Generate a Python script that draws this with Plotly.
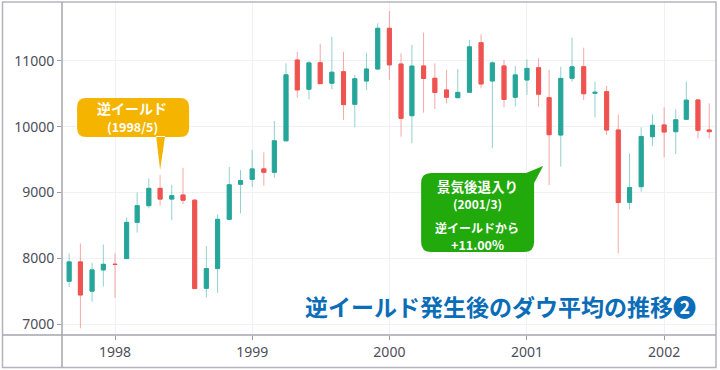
import plotly.graph_objects as go

# ---- data (monthly Dow OHLC) ----
months = ["1997-09-01", "1997-10-01", "1997-11-01", "1997-12-01",
          "1998-01-01", "1998-02-01", "1998-03-01", "1998-04-01", "1998-05-01", "1998-06-01",
          "1998-07-01", "1998-08-01", "1998-09-01", "1998-10-01", "1998-11-01", "1998-12-01",
          "1999-01-01", "1999-02-01", "1999-03-01", "1999-04-01", "1999-05-01", "1999-06-01",
          "1999-07-01", "1999-08-01", "1999-09-01", "1999-10-01", "1999-11-01", "1999-12-01",
          "2000-01-01", "2000-02-01", "2000-03-01", "2000-04-01", "2000-05-01", "2000-06-01",
          "2000-07-01", "2000-08-01", "2000-09-01", "2000-10-01", "2000-11-01", "2000-12-01",
          "2001-01-01", "2001-02-01", "2001-03-01", "2001-04-01", "2001-05-01", "2001-06-01",
          "2001-07-01", "2001-08-01", "2001-09-01", "2001-10-01", "2001-11-01", "2001-12-01",
          "2002-01-01", "2002-02-01", "2002-03-01", "2002-04-01", "2002-05-01"]
open_ = [7650, 7945, 7500, 7823,
         7908, 7995, 8546, 8800, 9063, 8900,
         8962, 8883, 7543, 7843, 8592, 9125,
         9200, 9359, 9307, 9786, 11015, 10570,
         10974, 10661, 10837, 10341, 10696, 10878,
         11497, 10954, 10168, 10924, 10737, 10559,
         10442, 10524, 11278, 10696, 10924, 10448,
         10711, 10898, 10442, 9874, 10737, 10913,
         10509, 10534, 9951, 8851, 9089, 9849,
         10027, 9925, 10113, 10407, 9951]
high = [8070, 8225, 7930, 8210,
        8075, 8620, 9000, 9215, 9265, 9115,
        9375, 8900, 8185, 8668, 9390, 9342,
        9646, 9610, 10087, 10965, 11140, 11000,
        11260, 11370, 11140, 10787, 11126, 11573,
        11760, 11117, 11243, 11430, 10965, 10863,
        10878, 11319, 11406, 11000, 11015, 10924,
        11025, 11041, 10863, 10913, 11354, 11202,
        10686, 10620, 10189, 9596, 9992, 10189,
        10296, 10265, 10686, 10420, 10357]
low = [7560, 6935, 7340, 7570,
       7400, 7990, 8390, 8760, 8800, 8580,
       8825, 7539, 7405, 7475, 8592, 8683,
       9080, 9104, 9225, 9786, 10442, 10417,
       10661, 10570, 10103, 9992, 10559, 10878,
       10711, 9849, 9748, 10214, 10270, 10357,
       10442, 10524, 10585, 9672, 10296, 10305,
       10483, 10305, 9114, 9392, 10686, 10407,
       10138, 9874, 8075, 8744, 9012, 9707,
       9535, 9586, 10113, 9824, 9824]
close = [7945, 7442, 7823, 7908,
         7906, 8546, 8800, 9063, 8900, 8952,
         8883, 7539, 7843, 8592, 9117, 9181,
         9359, 9307, 9786, 10789, 10560, 10971,
         10655, 10829, 10337, 10730, 10878, 11497,
         10941, 10128, 10922, 10734, 10522, 10448,
         10522, 11215, 10651, 10971, 10415, 10788,
         10887, 10495, 9879, 10735, 10912, 10502,
         10523, 9950, 8848, 9075, 9852, 10022,
         9920, 10106, 10404, 9946, 9925]

y_ticks = [7000, 8000, 9000, 10000, 11000]
y_tick_labels = ["7000", "8000", "9000", "10000", "11000"]
x_ticks = ["1998-01-01", "1999-01-01", "2000-01-01", "2001-01-01", "2002-01-01"]
x_tick_labels = ["1998", "1999", "2000", "2001", "2002"]

inversion_month = "1998-05-01"
inversion_lines = ["逆イールド", "(1998/5)"]
recession_month = "2001-03-01"
recession_lines = ["景気後退入り", "(2001/3)", "逆イールドから", "+11.00%"]
title_text = "逆イールド発生後のダウ平均の推移❷"

UP, DOWN = "#26A69A", "#EF5350"
UP_W, DOWN_W = "rgba(38,166,154,0.5)", "rgba(239,83,80,0.5)"

body_hi = [max(o, c) for o, c in zip(open_, close)]
body_lo = [min(o, c) for o, c in zip(open_, close)]

fig = go.Figure()
# wicks
fig.add_trace(go.Candlestick(
    x=months, open=open_, high=high, low=low, close=close,
    increasing=dict(line=dict(color=UP_W, width=1), fillcolor="rgba(0,0,0,0)"),
    decreasing=dict(line=dict(color=DOWN_W, width=1), fillcolor="rgba(0,0,0,0)"),
    showlegend=False, hoverinfo="skip"))
# bodies
fig.add_trace(go.Candlestick(
    x=months, open=open_, high=body_hi, low=body_lo, close=close,
    increasing=dict(line=dict(color=UP, width=1), fillcolor=UP),
    decreasing=dict(line=dict(color=DOWN, width=1), fillcolor=DOWN),
    showlegend=False))

FONT = "Noto Sans, Noto Sans CJK JP, sans-serif"
JFONT = "Noto Sans CJK JP, sans-serif"
TICK_COLOR = "#4E4E58"

fig.update_layout(
    width=720, height=370,
    margin=dict(l=62, r=4, t=2, b=35),
    paper_bgcolor="white", plot_bgcolor="white",
    boxgap=0.45,
    showlegend=False,
    font=dict(family=FONT, size=14, color=TICK_COLOR),
    xaxis=dict(
        type="date", range=["1997-08-13", "2002-05-19"],
        rangeslider=dict(visible=False),
        tickvals=x_ticks, ticktext=x_tick_labels,
        ticks="outside", ticklen=4, tickcolor="#9a9aa4",
        showgrid=True, gridcolor="#F1F1F5", gridwidth=1,
        showline=False, zeroline=False,
        tickfont=dict(size=14, color=TICK_COLOR),
    ),
    yaxis=dict(
        range=[6833, 11897],
        tickvals=y_ticks, ticktext=y_tick_labels,
        ticks="outside", ticklen=4, tickcolor="#9a9aa4",
        showgrid=True, gridcolor="#F1F1F5", gridwidth=1,
        showline=False, zeroline=False,
        tickfont=dict(size=14, color=TICK_COLOR),
    ),
)

# frame lines (paper coords: plot spans px 62..716, 2..335)
PW, PH = 654.0, 333.0
def px(x):
    return (x - 62) / PW
def py(y):
    return (335 - y) / PH

frame = "#B4B4BE"
fig.add_shape(type="rect", xref="paper", yref="paper",
              x0=px(2.5), x1=px(716), y0=py(367.5), y1=py(2),
              line=dict(color=frame, width=1.5), fillcolor="rgba(0,0,0,0)", layer="above")
fig.add_shape(type="line", xref="paper", yref="paper",
              x0=px(2.5), x1=px(716), y0=0, y1=0,
              line=dict(color="#A4A4AE", width=1.5), layer="above")
fig.add_shape(type="line", xref="paper", yref="paper",
              x0=0, x1=0, y0=py(367.5), y1=py(2),
              line=dict(color="#A4A4AE", width=1.5), layer="above")

# ---- speech bubbles (pixel-sized shapes anchored on the candles) ----
def rounded_path(l, r, b, t, rad, pointer_pts=None, pointer_edge=None):
    p = f"M{l+rad},{b} L{r-rad},{b} Q{r},{b} {r},{b+rad} "
    if pointer_edge == "topright":
        p += f"L{r},{pointer_pts[2][1]} "
        p += f"L{pointer_pts[1][0]},{pointer_pts[1][1]} L{pointer_pts[0][0]},{pointer_pts[0][1]} "
        p += f"L{l+rad},{t} Q{l},{t} {l},{t-rad} "
    else:
        p += f"L{r},{t-rad} Q{r},{t} {r-rad},{t} L{l+rad},{t} Q{l},{t} {l},{t-rad} "
    p += f"L{l},{b+rad} Q{l},{b} {l+rad},{b} Z"
    if pointer_edge == "bottom":
        (ax, ay), (tx, ty), (bx, by) = pointer_pts
        p += f" M{ax},{ay} L{tx},{ty} L{bx},{by} Z"
    return p

i_inv = months.index(inversion_month)
i_rec = months.index(recession_month)

yellow = "#F5B400"
green = "#22A90C"

fig.add_shape(type="path", xref="x", yref="y", xsizemode="pixel", ysizemode="pixel",
              xanchor=inversion_month, yanchor=high[i_inv],
              path=rounded_path(-83, 29, 38, 77, 9,
                                pointer_pts=[(-4, 39), (0, 5), (5, 39)], pointer_edge="bottom"),
              fillcolor=yellow, line=dict(width=0), layer="above")

fig.add_shape(type="path", xref="x", yref="y", xsizemode="pixel", ysizemode="pixel",
              xanchor=recession_month, yanchor=low[i_rec],
              path=rounded_path(-128, -15, -67, 12, 10,
                                pointer_pts=[(-23, 12), (-6, 19), (-15, 2)], pointer_edge="topright"),
              fillcolor=green, line=dict(width=0), layer="above")

for txt, ys, size in zip(inversion_lines, [67, 49], [14, 12.5]):
    fig.add_annotation(x=inversion_month, y=high[i_inv], xref="x", yref="y",
                       text=f"<b>{txt}</b>", showarrow=False,
                       xshift=-28, yshift=ys, borderpad=0,
                       font=dict(family=JFONT, size=size, color="white"))

for txt, ys, size in zip(recession_lines, [-1, -18, -42, -59], [13.5, 12, 12, 12.5]):
    fig.add_annotation(x=recession_month, y=low[i_rec], xref="x", yref="y",
                       text=f"<b>{txt}</b>", showarrow=False,
                       xshift=-72, yshift=ys, borderpad=0,
                       font=dict(family=JFONT, size=size, color="white"))

fig.add_annotation(x=px(698), y=py(306), xref="paper", yref="paper",
                   xanchor="right", yanchor="middle", showarrow=False,
                   text=f"<b>{title_text}</b>",
                   font=dict(family=JFONT, size=23, color="#0B6DB8"))

fig.write_html("out.html")
